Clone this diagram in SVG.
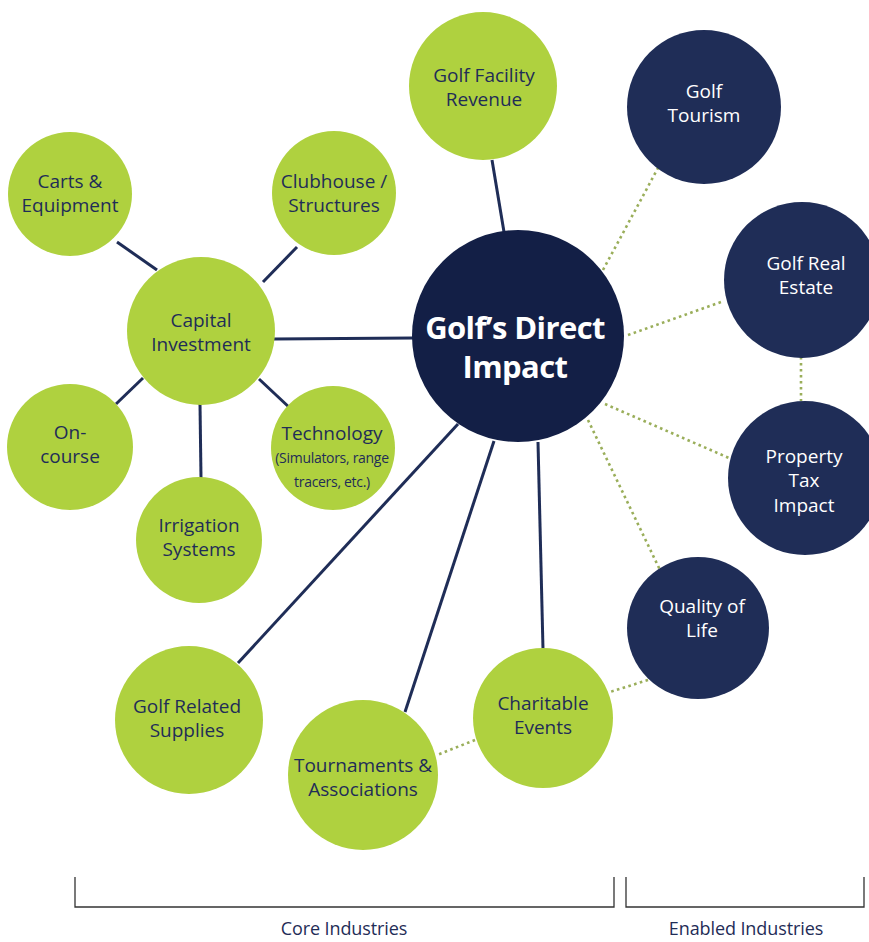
<svg xmlns="http://www.w3.org/2000/svg" width="869" height="942" viewBox="0 0 869 942">
<style>
.g{fill:#afd13f}
.n{fill:#1f2d57}
.c{fill:#131f46}
.t{font-family:"Open Sans","Liberation Sans",sans-serif;font-size:19px;fill:#1f2d57;text-anchor:middle;letter-spacing:0px}
.w{fill:#ffffff}
.s{font-size:14px;letter-spacing:-0.3px}
.solid{stroke:#1f2d57;stroke-width:3;fill:none}
.dot{stroke:#9aae5a;stroke-width:2.6;fill:none;stroke-dasharray:2.6 3.4}
.br{stroke:#333;stroke-width:1.3;fill:none}
.lab{font-family:"Open Sans","Liberation Sans",sans-serif;font-size:18px;fill:#1f2d57;text-anchor:middle;letter-spacing:-0.1px}
.big{font-family:"Open Sans","Liberation Sans",sans-serif;font-size:31px;font-weight:700;fill:#ffffff;text-anchor:middle;letter-spacing:-0.6px}
</style>
<rect width="869" height="942" fill="#ffffff"/>
<g id="connectors">
<line class="solid" x1="492" y1="160" x2="504" y2="232"/>
<line class="solid" x1="274" y1="339" x2="413" y2="338"/>
<line class="solid" x1="117" y1="242" x2="157" y2="270"/>
<line class="solid" x1="297" y1="247" x2="263" y2="282"/>
<line class="solid" x1="116" y1="404" x2="143" y2="378"/>
<line class="solid" x1="259" y1="379" x2="291" y2="409"/>
<line class="solid" x1="200" y1="404" x2="201" y2="478"/>
<line class="solid" x1="458" y1="424" x2="238" y2="663"/>
<line class="solid" x1="494" y1="441" x2="405" y2="712"/>
<line class="solid" x1="538" y1="442" x2="543" y2="649"/>
<line class="dot" x1="603" y1="270" x2="658" y2="168"/>
<line class="dot" x1="628" y1="335" x2="724" y2="301"/>
<line class="dot" x1="801" y1="357" x2="801" y2="401"/>
<line class="dot" x1="605" y1="404" x2="729" y2="458"/>
<line class="dot" x1="588" y1="420" x2="660" y2="570"/>
<line class="dot" x1="648" y1="680" x2="610" y2="692"/>
<line class="dot" x1="475" y1="740" x2="437" y2="755"/>
</g>
<g id="center">
<circle class="c" cx="518" cy="336" r="106"/>
<text class="big" x="515" y="339">Golf’s Direct</text>
<text class="big" x="515" y="378">Impact</text>
</g>
<g id="golf-facility-revenue">
<circle class="g" cx="483" cy="86" r="74"/>
<text class="t" x="484" y="82">Golf Facility</text>
<text class="t" x="484" y="106">Revenue</text>
</g>
<g id="golf-tourism">
<circle class="n" cx="704" cy="107" r="77"/>
<text class="t w" x="704" y="98">Golf</text>
<text class="t w" x="704" y="122">Tourism</text>
</g>
<g id="carts-equipment">
<circle class="g" cx="70" cy="194" r="62"/>
<text class="t" x="70" y="188">Carts &amp;</text>
<text class="t" x="70" y="212">Equipment</text>
</g>
<g id="clubhouse-structures">
<circle class="g" cx="334" cy="193" r="62"/>
<text class="t" x="334" y="188">Clubhouse /</text>
<text class="t" x="334" y="212">Structures</text>
</g>
<g id="capital-investment">
<circle class="g" cx="201" cy="331" r="74"/>
<text class="t" x="201" y="327">Capital</text>
<text class="t" x="201" y="351">Investment</text>
</g>
<g id="on-course">
<circle class="g" cx="70" cy="447" r="63"/>
<text class="t" x="70" y="439">On-</text>
<text class="t" x="70" y="463">course</text>
</g>
<g id="technology">
<circle class="g" cx="333" cy="448" r="62"/>
<text class="t" x="332" y="440">Technology</text>
<text class="t s" x="332" y="463">(Simulators, range</text>
<text class="t s" x="332" y="487">tracers, etc.)</text>
</g>
<g id="irrigation-systems">
<circle class="g" cx="199" cy="540" r="63"/>
<text class="t" x="199" y="532">Irrigation</text>
<text class="t" x="199" y="556">Systems</text>
</g>
<g id="golf-real-estate">
<circle class="n" cx="802" cy="280" r="78"/>
<text class="t w" x="806" y="270">Golf Real</text>
<text class="t w" x="806" y="294">Estate</text>
</g>
<g id="property-tax-impact">
<circle class="n" cx="805" cy="478" r="77"/>
<text class="t w" x="804" y="463">Property</text>
<text class="t w" x="804" y="487">Tax</text>
<text class="t w" x="804" y="512">Impact</text>
</g>
<g id="quality-of-life">
<circle class="n" cx="698" cy="628" r="71"/>
<text class="t w" x="702" y="613">Quality of</text>
<text class="t w" x="702" y="637">Life</text>
</g>
<g id="golf-related-supplies">
<circle class="g" cx="189" cy="720" r="74"/>
<text class="t" x="187" y="713">Golf Related</text>
<text class="t" x="187" y="737">Supplies</text>
</g>
<g id="tournaments-associations">
<circle class="g" cx="363" cy="775" r="75"/>
<text class="t" x="363" y="772">Tournaments &amp;</text>
<text class="t" x="363" y="796">Associations</text>
</g>
<g id="charitable-events">
<circle class="g" cx="543" cy="718" r="70"/>
<text class="t" x="543" y="710">Charitable</text>
<text class="t" x="543" y="734">Events</text>
</g>
<g id="brackets">
<polyline class="br" points="75,877 75,907 614,907 614,877"/>
<polyline class="br" points="626,877 626,907 864,907 864,877"/>
<text class="lab" x="344" y="935">Core Industries</text>
<text class="lab" x="746" y="935">Enabled Industries</text>
</g>
</svg>
